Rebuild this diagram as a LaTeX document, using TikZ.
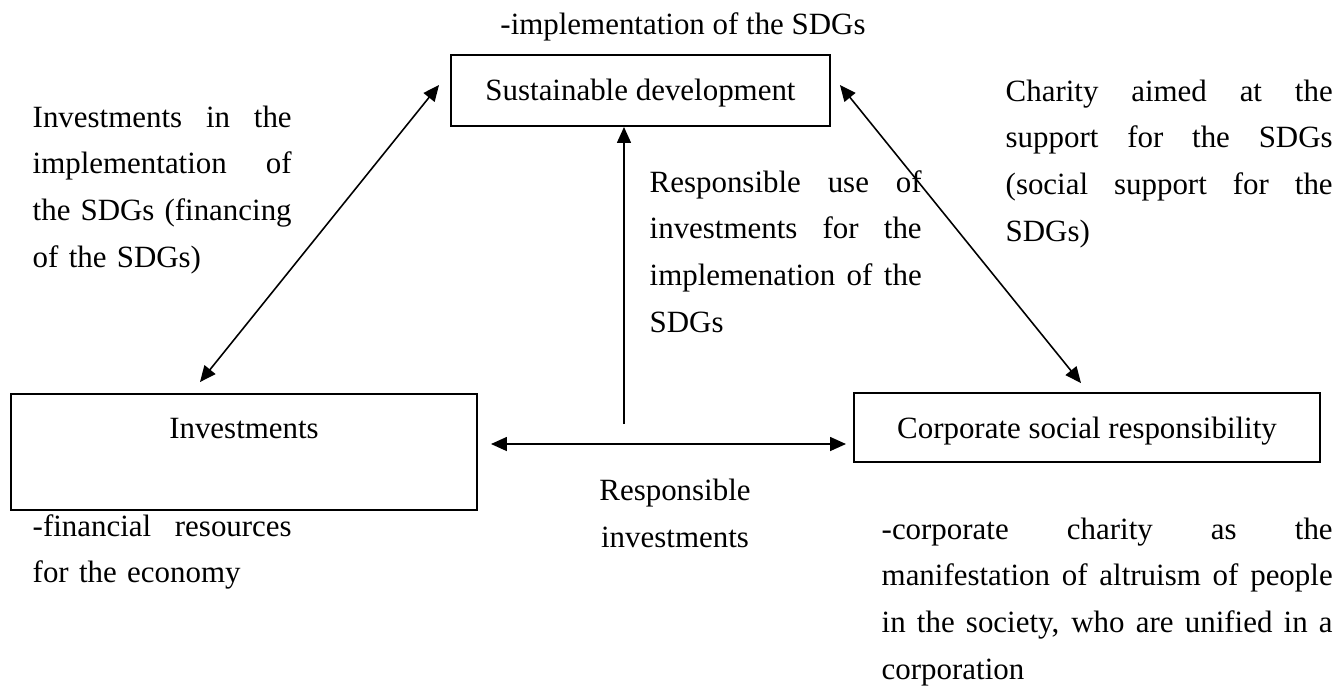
\documentclass[tikz,border=0pt]{standalone}
\usepackage{fontspec}
\setmainfont{Liberation Serif}
\usetikzlibrary{arrows.meta}

\newcommand{\jline}[2]{\leavevmode\hbox to #1{\spaceskip=0pt\xspaceskip=0pt\relax #2}\\}

\begin{document}
\begin{tikzpicture}[font=\fontsize{8.8}{13.3}\selectfont,
  box/.style={draw, line width=0.55pt, inner sep=0pt},
  link/.style={{Triangle[length=1.6mm,width=1.4mm]}-{Triangle[length=1.6mm,width=1.4mm]}, line width=0.45pt},
  uplink/.style={-{Triangle[length=1.6mm,width=1.4mm]}, line width=0.45pt},
  txt/.style={anchor=base west, inner sep=0pt, align=left}]
\useasboundingbox (0,0) rectangle (13.35,-6.86);

% boxes
\node[box, minimum width=3.79cm, minimum height=0.71cm, text height=0.23cm, text depth=0.04cm] (sd) at (6.405,-0.905) {Sustainable development};
\node[box, minimum width=4.66cm, minimum height=1.16cm, align=center] (inv) at (2.44,-4.52) {Investments\\ \mbox{}};
\node[box, minimum width=4.66cm, minimum height=0.69cm, text height=0.25cm, text depth=0.04cm] (csr) at (10.87,-4.275) {Corporate social responsibility};

% notes
\node[anchor=base, inner sep=0pt] (sdnote) at (6.83,-0.34) {-implementation of the SDGs};
\node[txt, text width=2.59cm] (invnote) at (0.32,-5.36) {\jline{2.59cm}{-financial resources}for the economy};
\node[txt, text width=4.51cm] (csrnote) at (8.81,-5.39) {\jline{4.51cm}{-corporate charity as the}\jline{4.51cm}{manifestation of altruism of people}\jline{4.51cm}{in the society, who are unified in a}corporation};

% links
\draw[link] ([xshift=-0.44cm,yshift=0.11cm]inv.north) -- ([xshift=-0.11cm,yshift=0.055cm]sd.west);
\draw[link] ([xshift=0.09cm,yshift=0.055cm]sd.east) -- ([xshift=-0.06cm,yshift=0.09cm]csr.north);
\draw[link] ([xshift=0.13cm,yshift=0.08cm]inv.east) -- ([xshift=-0.07cm,yshift=-0.165cm]csr.west);
\coordinate (rbase) at (6.24,-4.24);
\draw[uplink] (rbase) -- (rbase |- sd.south);

% link labels
\node[txt, text width=2.59cm] (finlabel) at (0.32,-1.27) {\jline{2.59cm}{Investments in the}\jline{2.59cm}{implementation of}\jline{2.59cm}{the SDGs (financing}of the SDGs)};
\node[txt, text width=3.27cm] (charlabel) at (10.05,-1.01) {\jline{3.27cm}{Charity aimed at the}\jline{3.27cm}{support for the SDGs}\jline{3.27cm}{(social support for the}SDGs)};
\node[txt, text width=2.72cm] (uselabel) at (6.49,-1.92) {\jline{2.72cm}{Responsible use of}\jline{2.72cm}{investments for the}\jline{2.72cm}{implemenation of the}SDGs};
\node[anchor=base, inner sep=0pt, align=center] (rilabel) at (6.75,-5.47) {Responsible\\investments};
\end{tikzpicture}
\end{document}
